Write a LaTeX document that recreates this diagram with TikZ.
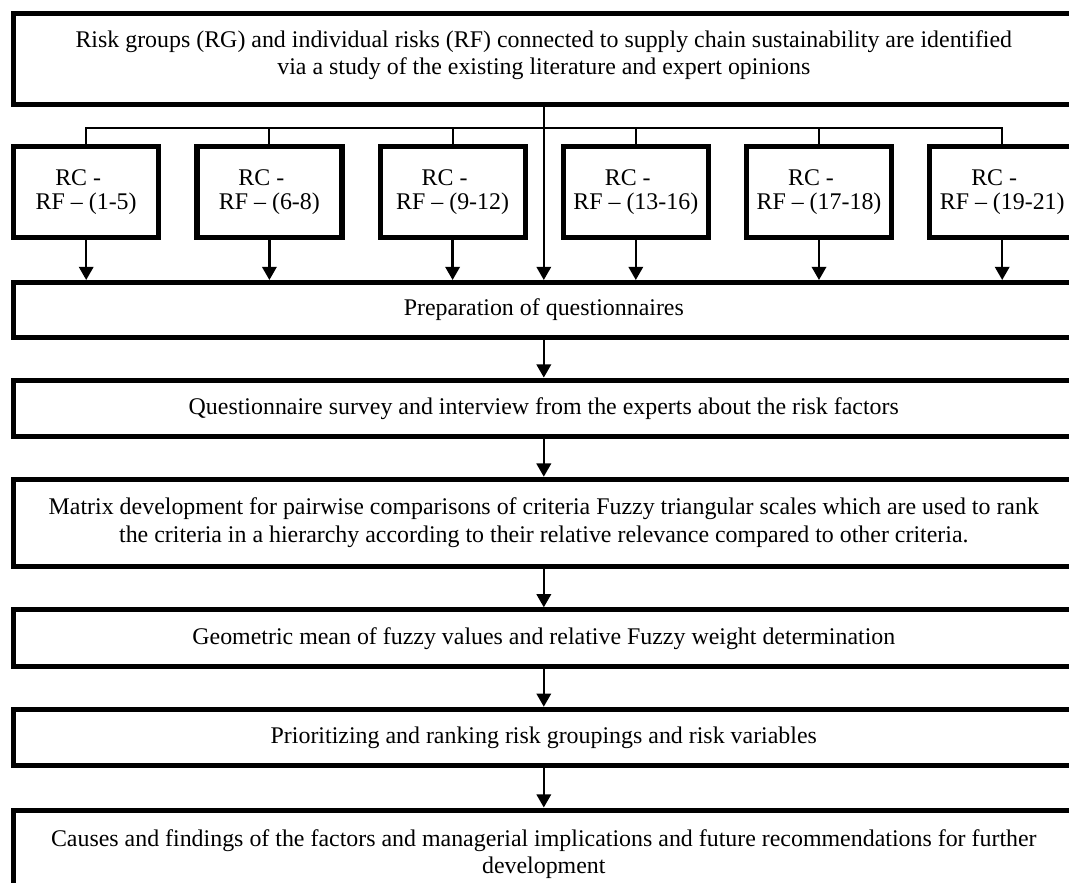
\documentclass[tikz,border=0pt]{standalone}
\usepackage{fontspec}
\setmainfont{Liberation Serif}
\usetikzlibrary{arrows.meta}

\begin{document}
\begin{tikzpicture}[x=0.25mm, y=-0.25mm,
    stage/.style={draw, line width=1.25mm, minimum width=265mm, inner sep=0pt,
        align=center, font=\fontsize{17}{19.6}\selectfont},
    rcbox/.style={draw, line width=1.3mm, minimum width=36.25mm, minimum height=22.7mm,
        inner sep=0pt, align=center, font=\fontsize{17}{16.5}\selectfont},
    link/.style={line width=0.5mm},
    flow/.style={line width=0.6mm, -{Triangle[length=3.3mm, width=3.6mm]}}]

    % page frame
    \clip (0,0) rectangle (1069,883);

    % main steps
    \node[stage, minimum height=22.75mm, text depth=3.2mm] (ident) at (543.8, 59.0)
        {Risk groups (RG) and individual risks (RF) connected to supply chain sustainability are identified\\
         via a study of the existing literature and expert opinions};
    \node[stage, minimum height=13.75mm] (prep) at (543.8, 310.0)
        {Preparation of questionnaires};
    \node[stage, minimum height=14.1mm] (survey) at (543.8, 408.3)
        {Questionnaire survey and interview from the experts about the risk factors};
    \node[stage, minimum height=21.75mm] (matrix) at (543.8, 522.7)
        {Matrix development for pairwise comparisons of criteria Fuzzy triangular scales which are used to rank\\
         the criteria in a hierarchy according to their relative relevance compared to other criteria.};
    \node[stage, minimum height=14.25mm] (geo) at (543.8, 638.3)
        {Geometric mean of fuzzy values and relative Fuzzy weight determination};
    \node[stage, minimum height=14.15mm] (rank) at (543.8, 737.5)
        {Prioritizing and ranking risk groupings and risk variables};
    \node[stage, minimum height=22mm] (causes) at (543.8, 854.0)
        {Causes and findings of the factors and managerial implications and future recommendations for further\\
         development};

    % risk groups
    \node[rcbox] (rc1) at (86.2, 192.2)   {RC -\hspace*{4mm}\\RF -- (1-5)};
    \node[rcbox] (rc2) at (269.4, 192.2)  {RC -\hspace*{4mm}\\RF -- (6-8)};
    \node[rcbox] (rc3) at (452.6, 192.2)  {RC -\hspace*{4mm}\\RF -- (9-12)};
    \node[rcbox] (rc4) at (635.8, 192.2)  {RC -\hspace*{4mm}\\RF -- (13-16)};
    \node[rcbox] (rc5) at (819.0, 192.2)  {RC -\hspace*{4mm}\\RF -- (17-18)};
    \node[rcbox] (rc6) at (1002.2, 192.2) {RC -\hspace*{4mm}\\RF -- (19-21)};

    % branching line
    \coordinate (bus) at (0, 128.3);
    \draw[link] (rc1.north) -- (rc1.north |- bus) -- (rc6.north |- bus) -- (rc6.north);
    \draw[link] (rc2.north) -- (rc2.north |- bus);
    \draw[link] (rc3.north) -- (rc3.north |- bus);
    \draw[link] (rc4.north) -- (rc4.north |- bus);
    \draw[link] (rc5.north) -- (rc5.north |- bus);

    % arrows into the questionnaire step
    \draw[flow] (ident.south) -- (prep.north);
    \draw[flow] (rc1.south) -- (rc1.south |- prep.north);
    \draw[flow] (rc2.south) -- (rc2.south |- prep.north);
    \draw[flow] (rc3.south) -- (rc3.south |- prep.north);
    \draw[flow] (rc4.south) -- (rc4.south |- prep.north);
    \draw[flow] (rc5.south) -- (rc5.south |- prep.north);
    \draw[flow] (rc6.south) -- (rc6.south |- prep.north);

    % arrows down the chain
    \draw[flow] (prep.south) -- (survey.north);
    \draw[flow] (survey.south) -- (matrix.north);
    \draw[flow] (matrix.south) -- (geo.north);
    \draw[flow] (geo.south) -- (rank.north);
    \draw[flow] (rank.south) -- (causes.north);

\end{tikzpicture}
\end{document}
